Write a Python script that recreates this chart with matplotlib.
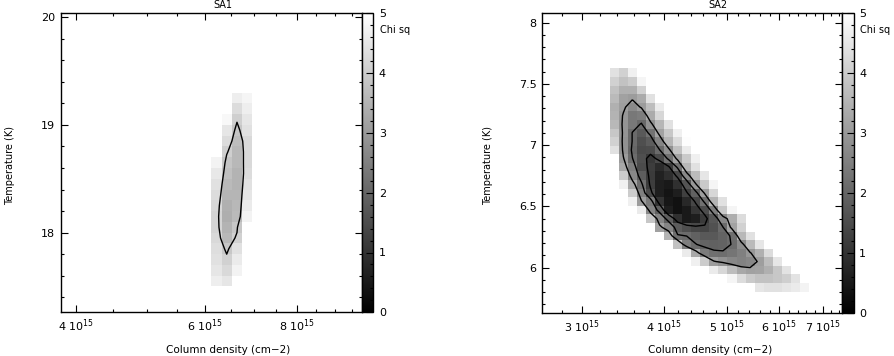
import numpy as np
import matplotlib.pyplot as plt
from matplotlib.ticker import FixedLocator, MultipleLocator, NullFormatter

plt.rcParams['font.family'] = ['DejaVu Sans']
plt.rcParams['mathtext.default'] = 'regular'

# ---- SA1: chi-square grid (column density x temperature) ----
sa1_ncol = [6.22e15, 6.42e15, 6.63e15, 6.85e15]
sa1_temp = [19.25, 19.15, 19.05, 18.95, 18.85, 18.75, 18.65, 18.55, 18.45,
            18.35, 18.25, 18.15, 18.05, 17.95, 17.85, 17.75, 17.65, 17.55]
# 6.0 = above the colour scale (drawn white)
sa1_chi = [
    [6.0, 6.0, 4.65, 4.8],
    [6.0, 6.0, 4.3, 4.65],
    [6.0, 4.85, 4.05, 4.5],
    [6.0, 4.5, 3.85, 4.4],
    [6.0, 4.3, 3.7, 4.25],
    [6.0, 4.05, 3.6, 4.25],
    [4.75, 3.85, 3.6, 4.25],
    [4.55, 3.75, 3.5, 4.3],
    [4.4, 3.65, 3.5, 4.4],
    [4.3, 3.55, 3.55, 4.5],
    [4.2, 3.45, 3.6, 4.6],
    [4.15, 3.4, 3.65, 4.75],
    [4.15, 3.5, 3.9, 6.0],
    [4.25, 3.6, 4.1, 6.0],
    [4.35, 3.9, 4.4, 6.0],
    [4.4, 4.1, 4.6, 6.0],
    [4.5, 4.25, 4.75, 6.0],
    [4.65, 4.5, 6.0, 6.0],
]
sa1_levels = [4.0]

# ---- SA2 ----
sa2_ncol = [3.363e15, 3.472e15, 3.584e15, 3.700e15, 3.819e15, 3.943e15,
            4.070e15, 4.202e15, 4.337e15, 4.477e15, 4.622e15, 4.771e15,
            4.925e15, 5.084e15, 5.249e15, 5.418e15, 5.593e15, 5.774e15,
            5.961e15, 6.153e15, 6.352e15, 6.557e15]
sa2_temp = [7.59, 7.52, 7.45, 7.38, 7.31, 7.24, 7.17, 7.10, 7.03, 6.96,
            6.89, 6.82, 6.75, 6.68, 6.61, 6.54, 6.47, 6.40, 6.33, 6.26,
            6.19, 6.12, 6.05, 5.98, 5.91, 5.84]
# first column index of each row, then the chi values from that column on
sa2_start = [0, 0, 0, 0, 0, 0, 0, 0, 0, 0, 0, 1, 1, 1, 2, 2, 3, 3, 5, 6,
             7, 8, 9, 11, 13, 16]
sa2_rows = [
    [4.4, 4.1, 4.7],
    [4.1, 3.8, 4.0, 4.8],
    [3.8, 3.45, 3.45, 4.1],
    [3.65, 3.15, 3.05, 3.35, 4.4],
    [3.45, 3.1, 2.7, 3.06, 3.7, 4.6],
    [3.5, 2.95, 2.35, 2.45, 3.35, 4.2],
    [3.6, 2.9, 2.35, 2.05, 2.85, 3.56, 4.4],
    [3.9, 2.9, 2.08, 1.75, 2.23, 3.18, 3.9, 4.7],
    [4.1, 2.84, 2.08, 1.55, 1.8, 2.59, 3.57, 4.3, 4.95],
    [4.4, 2.86, 2.0, 1.45, 1.5, 2.08, 2.85, 3.8, 4.6],
    [5.3, 3.05, 2.12, 1.55, 1.1, 1.45, 2.22, 3.16, 3.95, 4.7],
    [3.3, 2.47, 1.47, 1.2, 0.85, 1.2, 2.2, 3.58, 4.4],
    [4.0, 2.65, 1.82, 1.16, 0.65, 0.9, 1.4, 2.67, 3.67, 4.5],
    [4.7, 3.3, 2.2, 1.2, 0.6, 0.5, 0.95, 1.65, 2.94, 3.94, 4.8],
    [4.0, 2.5, 1.45, 0.6, 0.4, 0.6, 1.25, 1.9, 3.1, 4.2],
    [4.7, 3.05, 2.4, 1.0, 0.45, 0.35, 0.8, 1.37, 2.22, 3.52, 4.4],
    [4.6, 2.6, 1.9, 0.6, 0.35, 0.5, 1.05, 1.5, 2.48, 3.92, 4.8],
    [5.0, 3.9, 2.6, 1.85, 0.95, 0.5, 0.6, 1.15, 1.7, 2.65, 3.4, 4.3],
    [3.15, 2.6, 1.8, 1.55, 1.4, 1.35, 1.6, 2.08, 3.2, 4.1],
    [3.5, 2.15, 2.09, 1.9, 1.75, 1.75, 1.95, 2.15, 3.6, 4.4],
    [3.8, 2.47, 2.12, 1.95, 1.9, 1.95, 2.12, 2.75, 3.65, 4.5],
    [4.6, 3.3, 2.42, 2.2, 2.15, 2.3, 2.5, 2.95, 3.45, 4.3],
    [4.7, 4.0, 3.05, 2.85, 2.65, 2.55, 2.65, 3.1, 3.7, 4.5],
    [4.6, 4.2, 3.7, 3.3, 3.15, 3.2, 3.45, 3.9, 4.45],
    [4.8, 4.3, 3.95, 3.8, 3.8, 3.9, 4.05, 4.45],
    [4.5, 4.4, 4.4, 4.5, 4.6, 4.75],
]
sa2_levels = [1.3, 2.1, 3.0]

sa2_chi = np.full((len(sa2_temp), len(sa2_ncol)), 6.0)
for i, (s, vals) in enumerate(zip(sa2_start, sa2_rows)):
    sa2_chi[i, s:s + len(vals)] = vals

W, H = 894, 356
fig = plt.figure(figsize=(W / 100, H / 100), dpi=100)


def px(x0, y0, x1, y1):
    # pixel box (from top-left) -> figure fraction rect
    return [x0 / W, 1 - y1 / H, (x1 - x0) / W, (y1 - y0) / H]


def panel(box, cbox, ncol, temp, chi, levels, xlim, ylim, xmaj, xmin,
          ylabels, ymin_step, title, tx, lx, ly):
    ax = fig.add_axes(px(*box))
    mesh = ax.pcolormesh(ncol, temp, chi, cmap='gray', vmin=0, vmax=5,
                         shading='nearest')
    ax.contour(ncol, temp, chi, levels=levels, colors='k', linewidths=1.0)
    ax.set_xscale('log')
    ax.set_xlim(*xlim)
    ax.set_ylim(*ylim)
    ax.xaxis.set_major_locator(FixedLocator([m * 1e15 for m in xmaj]))
    ax.xaxis.set_minor_locator(FixedLocator([m * 1e15 for m in xmin]))
    ax.set_xticklabels(['%g 10$^{15}$' % m for m in xmaj])
    ax.xaxis.set_minor_formatter(NullFormatter())
    ax.set_yticks(ylabels)
    ax.set_yticklabels(['%g' % v for v in ylabels])
    ax.yaxis.set_minor_locator(MultipleLocator(ymin_step))
    ax.tick_params(which='both', direction='in', top=True, right=True,
                   labelsize=8, width=0.8)
    ax.tick_params(which='major', length=5, pad=4)
    ax.tick_params(which='minor', length=2.5)
    for sp in ax.spines.values():
        sp.set_linewidth(1.0)

    cax = fig.add_axes(px(*cbox))
    cb = fig.colorbar(mesh, cax=cax)
    cb.set_ticks([0, 1, 2, 3, 4, 5])
    cax.yaxis.set_minor_locator(MultipleLocator(0.2))
    cax.tick_params(which='both', direction='in', labelsize=8, width=0.8)
    cax.tick_params(which='major', length=5, pad=4)
    cax.tick_params(which='minor', length=2.5)
    cb.outline.set_linewidth(1.0)

    fig.text(cbox[2] / W + 7 / W, 1 - 30 / H, 'Chi sq', fontsize=7,
             ha='left', va='center')
    fig.text(tx / W, 1 - 5 / H, title, fontsize=7, ha='center', va='center')
    fig.text(lx / W, 1 - 350 / H, 'Column density (cm\u22122)', fontsize=7.5,
             ha='center', va='center')
    fig.text(ly / W, 1 - 165 / H, 'Temperature (K)', fontsize=7,
             ha='center', va='center', rotation=90)
    return ax


panel((61, 13.3, 361.7, 312.3), (361.7, 13.3, 373.3, 312.3),
      sa1_ncol, sa1_temp, sa1_chi, sa1_levels,
      (3.82e15, 9.80e15), (17.26, 20.037),
      [4, 6, 8], [4.5, 5, 5.5, 6.5, 7, 7.5, 8.5, 9, 9.5],
      [18, 19, 20], 0.2, 'SA1', 223, 228, 10)

panel((542, 12.7, 842, 312.7), (842, 12.7, 853.5, 312.7),
      sa2_ncol, sa2_temp, sa2_chi, sa2_levels,
      (2.61e15, 7.48e15), (5.633, 8.08),
      [3, 4, 5, 6, 7],
      [2.8, 3.2, 3.4, 3.6, 3.8, 4.2, 4.4, 4.6, 4.8, 5.2, 5.4, 5.6, 5.8,
       6.2, 6.4, 6.6, 6.8, 7.2, 7.4],
      [6, 6.5, 7, 7.5, 8], 0.1, 'SA2', 718, 710, 488)

fig.savefig('out.png', dpi=100)
